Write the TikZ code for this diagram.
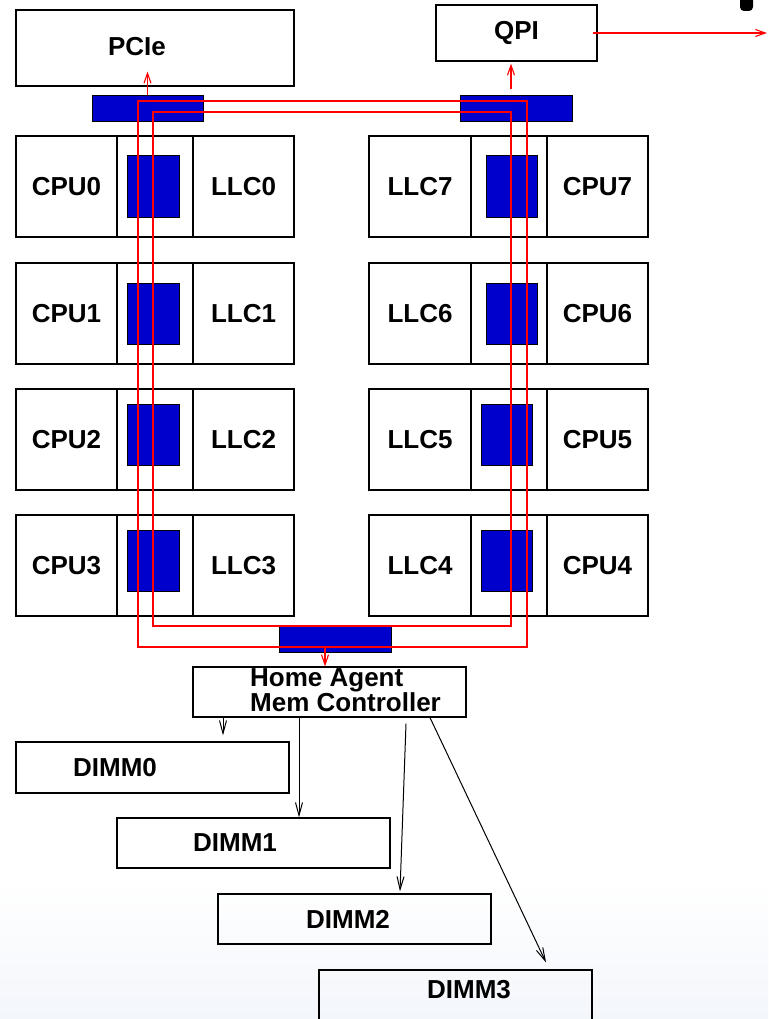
\documentclass[tikz,border=0pt]{standalone}
\usepackage{fontspec}
\setmainfont{Liberation Sans}
\usetikzlibrary{arrows.meta,positioning}
\definecolor{ringblue}{RGB}{0,0,204}
\definecolor{fadeblue}{RGB}{243,246,251}
\newcommand{\boxfont}{\fontsize{26}{25}\selectfont\bfseries}

\begin{document}
\begin{tikzpicture}[x=1pt, y=-1pt, font=\boxfont,
    unit/.style={draw, line width=1.2pt, minimum width=101pt, minimum height=101pt, inner sep=0pt},
    mid/.style={unit, minimum width=76pt},
    ringstop/.style={draw, line width=1pt, fill=ringblue, minimum width=52pt, minimum height=61pt, inner sep=0pt},
    ringbar/.style={draw, line width=1pt, fill=ringblue, minimum width=112pt, minimum height=26pt, inner sep=0pt},
    io/.style={draw, line width=1.2pt, inner sep=0pt},
    dimm/.style={draw, line width=1.2pt, minimum width=273pt, minimum height=50pt, inner sep=0pt},
    ring/.style={red, line width=1.1pt},
    rarr/.style={red, line width=1.1pt, -{Straight Barb[length=10pt, width=7pt]}},
    arr/.style={line width=1pt, -{Straight Barb[length=13pt, width=7pt]}}
]
\useasboundingbox (0,0) rectangle (768,1019);
\shade[top color=white, bottom color=fadeblue] (0,880) rectangle (768,1019);
\fill[rounded corners=4pt] (740,-8) rectangle (753,11);

\node[io, minimum width=278pt, minimum height=76pt, label={[xshift=-18pt, yshift=1.5pt]center:PCIe}] (pcie) at (155,48) {};
\node[io, minimum width=161pt, minimum height=56pt] (qpi) at (516.5,33) {QPI};
\coordinate (ext) at (767,33);

\node[ringbar, minimum width=111pt] (bar0) at (147.5,109) {};
\node[ringbar] (bar1) at (516,109) {};
\node[ringbar] (bar2) at (335,639) {};

\foreach \l/\r/\y/\sy/\sx in {0/7/186.5/186.5/511.5, 1/6/313.5/313.5/511.5, 2/5/439.5/434.5/506.5, 3/4/565.5/560.5/506.5}{
  \node[unit] (cpu\l) at (66.5,\y) {CPU\l};
  \node[mid] (mid\l) at (155,\y) {};
  \node[ringstop] (stop\l) at (153,\sy) {};
  \node[unit] (llc\l) at (243.5,\y) {LLC\l};
  \node[unit, minimum width=102pt] (llc\r) at (420,\y) {LLC\r};
  \node[mid] (mid\r) at (509,\y) {};
  \node[ringstop, minimum width=51pt] (stop\r) at (\sx,\sy) {};
  \node[unit] (cpu\r) at (597.5,\y) {CPU\r};
}

\coordinate (outerNW) at (138,101);
\coordinate (outerSE) at (527,647);
\coordinate (innerNW) at (153,112);
\coordinate (innerSE) at (511,626);
\draw[ring] (outerNW) rectangle (outerSE);
\draw[ring] (innerNW) rectangle (innerSE);

\node[dimm, label={[xshift=16pt, yshift=2pt, align=left]center:Home Agent\\Mem Controller}] (ha) at (329.5,692) {};
\node[dimm, minimum height=51pt, label={[xshift=-37.5pt]center:DIMM0}] (dimm0) at (152.5,767.5) {};
\node[dimm, label={[xshift=-18.5pt]center:DIMM1}] (dimm1) at (253.5,843) {};
\node[dimm, label={[xshift=-6.5pt]center:DIMM2}] (dimm2) at (354.5,919) {};
\node[dimm, label={[xshift=13.5pt, yshift=5pt]center:DIMM3}] (dimm3) at (455.5,995) {};

\draw[rarr] (bar0.north) -- ([yshift=15pt]bar0.north |- pcie.south);
\draw[rarr] ([xshift=-5pt, yshift=6pt]bar1.north) -- ([xshift=-5.5pt, yshift=-2pt]qpi.south);
\draw[rarr] ([xshift=-5pt]qpi.east) -- (ext);
\draw[rarr] ([xshift=-10pt, yshift=5pt]bar2.south) -- ([xshift=-4.5pt]ha.north);

\draw[arr] ([xshift=-106.5pt]ha.south) -- ([xshift=70.5pt, yshift=6pt]dimm0.north);
\draw[arr] ([xshift=-30.5pt]ha.south) -- ([xshift=45.5pt]dimm1.north);
\draw[arr] ([xshift=76.5pt, yshift=-6pt]ha.south) -- ([xshift=45.5pt, yshift=2pt]dimm2.north);
\draw[arr] ([xshift=100.5pt]ha.south) -- ([xshift=90.5pt, yshift=7pt]dimm3.north);
\end{tikzpicture}
\end{document}
